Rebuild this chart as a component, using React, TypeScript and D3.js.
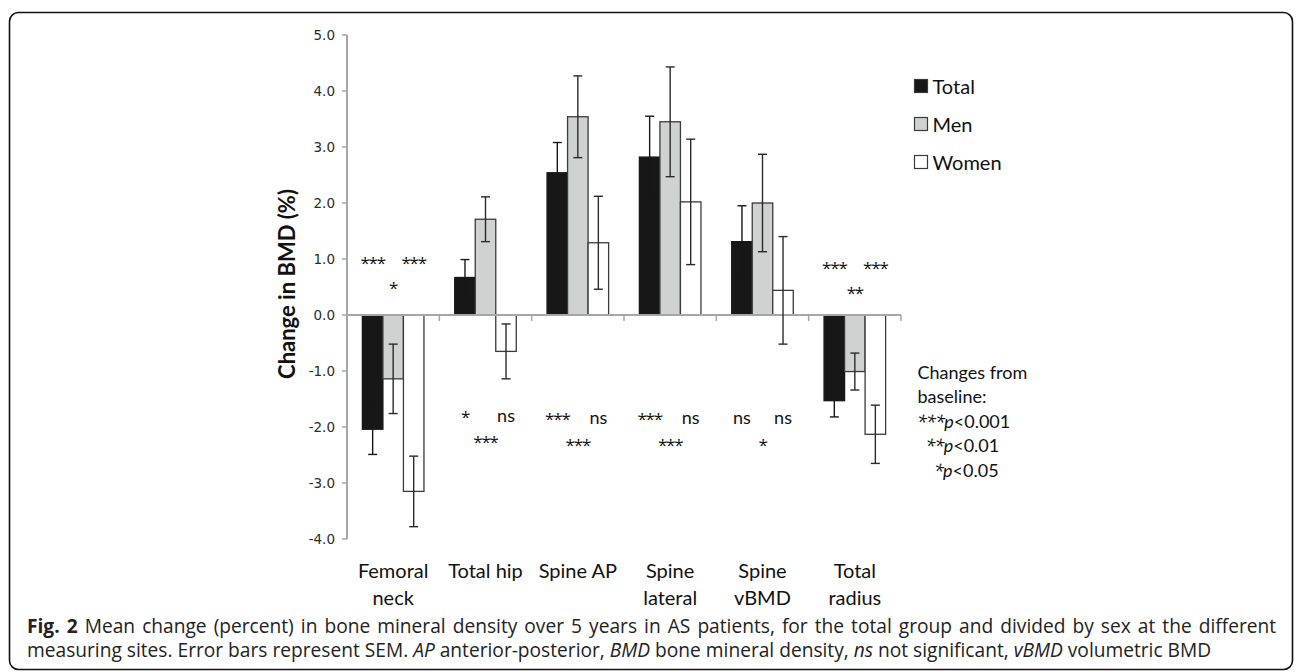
import React, { useLayoutEffect, useRef, useState } from "react";
import * as d3 from "d3";

const categories = ["Femoral neck", "Total hip", "Spine AP", "Spine lateral", "Spine vBMD", "Total radius"];
const categoryLines = [["Femoral", "neck"], ["Total hip"], ["Spine AP"], ["Spine", "lateral"], ["Spine", "vBMD"], ["Total", "radius"]];
const series = ["Total", "Men", "Women"];

const totalMean = [-2.04, 0.67, 2.54, 2.82, 1.31, -1.53];
const totalSem = [0.45, 0.32, 0.54, 0.73, 0.64, 0.29];
const menMean = [-1.14, 1.71, 3.54, 3.45, 2.0, -1.01];
const menSem = [0.62, 0.4, 0.73, 0.98, 0.87, 0.33];
const womenMean = [-3.15, -0.65, 1.29, 2.02, 0.44, -2.13];
const womenSem = [0.63, 0.49, 0.83, 1.12, 0.96, 0.52];

const yTicks = [-4, -3, -2, -1, 0, 1, 2, 3, 4, 5];

// significance labels: category index, series index, text, baseline value
const sigCat = [0, 0, 0, 1, 1, 1, 2, 2, 2, 3, 3, 3, 4, 4, 4, 5, 5, 5];
const sigSeries = [0, 1, 2, 0, 1, 2, 0, 1, 2, 0, 1, 2, 0, 1, 2, 0, 1, 2];
const sigText = ["***", "*", "***", "*", "***", "ns", "***", "***", "ns", "***", "***", "ns", "ns", "*", "ns", "***", "**", "***"];
const sigLine = [0.845, 0.4, 0.845, -1.91, -2.36, -1.91, -1.955, -2.41, -1.955, -1.955, -2.41, -1.955, -1.955, -2.41, -1.955, 0.75, 0.3, 0.75];

const seriesFill = ["#171717", "#d0d2d1", "#ffffff"];

const noteLines = ["Changes from", "baseline:"];
const pLevels = ["***", "**", "*"];
const pValues = ["<0.001", "<0.01", "<0.05"];

const captionLead = "Fig. 2";
const captionLine1 = " Mean change (percent) in bone mineral density over 5 years in AS patients, for the total group and divided by sex at the different";

const LFONT = "Lato, 'Open Sans', sans-serif";
const AFONT = "'Open Sans', 'DejaVu Sans', sans-serif";
const CFONT = "'Open Sans', 'Noto Sans', sans-serif";

export default function App() {
  const left = 347, right = 901, top = 35, bottom = 539;
  const y = d3.scaleLinear().domain([-4, 5]).range([bottom, top]);
  const x0 = d3.scaleBand<string>().domain(categories).range([left, right]).padding(0);
  const bw = x0.bandwidth();
  const off = (bw * 0.75) / 4.5;
  const x1 = d3.scaleBand<string>().domain(series).range([off, bw - off]).padding(0);
  const w = x1.bandwidth();
  const means = [totalMean, menMean, womenMean];
  const sems = [totalSem, menSem, womenSem];
  const axisColor = "#a6a6a6";
  const y0 = y(0);

  const l1 = useRef<SVGTextElement>(null);
  const l2 = useRef<SVGTextElement>(null);
  const [cap, setCap] = useState({ fs: 17, ws: 0 });
  const capX = 27;
  const line1Width = 1249;
  const line2Width = 1184;

  useLayoutEffect(() => {
    if (!l1.current || !l2.current) return;
    const fsCur = cap.fs;
    const w2 = l2.current.getComputedTextLength();
    const fs = (fsCur * line2Width) / w2;
    const nSpaces = (captionLead + captionLine1).split(" ").length - 1;
    const w1Natural = (l1.current.getComputedTextLength() - cap.ws * nSpaces) * (fs / fsCur);
    const ws = (line1Width - w1Natural) / nSpaces;
    if (Math.abs(fs - cap.fs) > 0.01 || Math.abs(ws - cap.ws) > 0.01) setCap({ fs, ws });
  }, [cap]);

  return (
    <svg width={1296} height={672} style={{ position: "absolute", left: 0, top: 0, background: "#fff" }}>
      <rect x={9.5} y={12.5} width={1283} height={657} rx={9} ry={9} fill="none" stroke="#111" strokeWidth={1.6} />

      {/* bars */}
      {categories.map((c, ci) =>
        series.map((s, si) => {
          const v = means[si][ci];
          const bx = (x0(c) as number) + (x1(s) as number);
          return (
            <rect
              key={c + s}
              x={bx}
              y={Math.min(y(v), y0)}
              width={w}
              height={Math.abs(y(v) - y0)}
              fill={seriesFill[si]}
              stroke={si === 0 ? "#171717" : "#3a3a3a"}
              strokeWidth={1.3}
            />
          );
        })
      )}

      {/* axes */}
      <line x1={left} x2={left} y1={top} y2={bottom} stroke={axisColor} strokeWidth={2} />
      {yTicks.map((t) => (
        <g key={t}>
          <line x1={left - 5} x2={left} y1={y(t)} y2={y(t)} stroke={axisColor} strokeWidth={1.5} />
          <text x={335} y={y(t)} dy="0.36em" textAnchor="end" fontFamily="'DejaVu Sans', Verdana, sans-serif" fontSize={13.5} fill="#2a2a2a">
            {t.toFixed(1)}
          </text>
        </g>
      ))}
      <line x1={left} x2={right} y1={y0} y2={y0} stroke={axisColor} strokeWidth={2} />
      {categories.map((c) => (
        <line key={c} x1={(x0(c) as number) + bw} x2={(x0(c) as number) + bw} y1={y0} y2={y0 + 6} stroke={axisColor} strokeWidth={1.5} />
      ))}

      {/* error bars */}
      {categories.map((c, ci) =>
        series.map((s, si) => {
          const v = means[si][ci];
          const e = sems[si][ci];
          const cx = (x0(c) as number) + (x1(s) as number) + w / 2;
          const col = si === 0 ? "#171717" : "#2a2a2a";
          return (
            <g key={"e" + c + s} stroke={col} strokeWidth={1.4}>
              <line x1={cx} x2={cx} y1={y(v + e)} y2={y(v - e)} />
              <line x1={cx - 4.5} x2={cx + 4.5} y1={y(v + e)} y2={y(v + e)} />
              <line x1={cx - 4.5} x2={cx + 4.5} y1={y(v - e)} y2={y(v - e)} />
            </g>
          );
        })
      )}

      {/* significance */}
      {sigText.map((t, i) => {
        const c = categories[sigCat[i]];
        const s = series[sigSeries[i]];
        const cx = (x0(c) as number) + (x1(s) as number) + w / 2;
        const isStar = t.includes("*");
        return (
          <text
            key={"s" + i}
            x={cx}
            y={y(sigLine[i]) + (isStar ? 1 : 0)}
            textAnchor="middle"
            fontFamily={isStar ? AFONT : LFONT}
            fontSize={isStar ? 17 : 18}
            letterSpacing={isStar ? -1.2 : 0}
            fill="#111"
          >
            {t}
          </text>
        );
      })}

      {/* x labels */}
      {categories.map((c, ci) => (
        <text key={"l" + c} x={(x0(c) as number) + bw / 2} textAnchor="middle" fontFamily={LFONT} fontSize={20} fill="#111">
          {categoryLines[ci].map((ln, li) => (
            <tspan key={li} x={(x0(c) as number) + bw / 2} y={578 + li * 27}>
              {ln}
            </tspan>
          ))}
        </text>
      ))}

      {/* y title */}
      <text transform={`translate(295, 284) rotate(-90)`} textAnchor="middle" fontFamily={LFONT} fontWeight="bold" fontSize={22} fill="#111">
        Change in BMD (%)
      </text>

      {/* legend */}
      {series.map((s, si) => (
        <g key={"lg" + s}>
          <rect x={914.5} y={79.5 + si * 38} width={13} height={13} fill={seriesFill[si]} stroke="#3a3a3a" strokeWidth={1.2} />
          <text x={932.5} y={93.5 + si * 38} fontFamily={LFONT} fontSize={20} fill="#111">
            {s}
          </text>
        </g>
      ))}

      {/* note */}
      {noteLines.map((n, i) => (
        <text key={"n" + i} x={917.5} y={378.5 + i * 24.5} fontFamily={LFONT} fontSize={18} fill="#111">
          {n}
        </text>
      ))}
      {pLevels.map((p, i) => (
        <text key={"p" + i} x={917 + i * 8.5} y={427.5 + i * 24.5} fontFamily={LFONT} fontSize={18} fill="#111">
          <tspan fontStyle="italic" fontFamily={AFONT} fontSize={18} letterSpacing={-0.8}>{p}</tspan>
          <tspan fontStyle="italic">p</tspan>
          <tspan>{pValues[i]}</tspan>
        </text>
      ))}

      {/* caption */}
      <text ref={l1} x={capX} y={633} fontFamily={CFONT} fontSize={cap.fs} wordSpacing={cap.ws} fill="#222">
        <tspan fontWeight="bold">{captionLead}</tspan>
        <tspan>{captionLine1}</tspan>
      </text>
      <text ref={l2} x={capX} y={657} fontFamily={CFONT} fontSize={cap.fs} fill="#222">
        <tspan>measuring sites. Error bars represent SEM. </tspan>
        <tspan fontStyle="italic">AP</tspan>
        <tspan> anterior-posterior, </tspan>
        <tspan fontStyle="italic">BMD</tspan>
        <tspan> bone mineral density, </tspan>
        <tspan fontStyle="italic">ns</tspan>
        <tspan> not significant, </tspan>
        <tspan fontStyle="italic">vBMD</tspan>
        <tspan> volumetric BMD</tspan>
      </text>
    </svg>
  );
}
